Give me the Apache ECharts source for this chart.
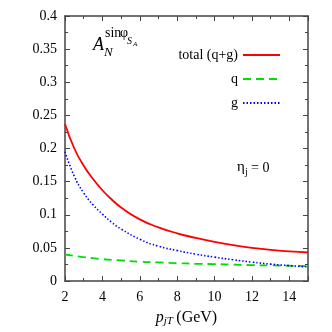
<!DOCTYPE html>
<html>
<head>
<meta charset="utf-8">
<script src="https://cdn.jsdelivr.net/npm/echarts@6/dist/echarts.min.js"></script>
<style>
  html, body { margin: 0; padding: 0; background: #fff; }
  #chart { width: 332px; height: 332px; }
</style>
</head>
<body>
<div id="chart"></div>
<script>
// values
var ptValues = [2, 2.5, 3, 3.5, 4, 4.5, 5, 6, 7, 8, 9, 10, 11, 12, 13, 14, 15];
var totalVals = [0.237, 0.200, 0.174, 0.154, 0.137, 0.123, 0.111, 0.093, 0.081, 0.072, 0.065, 0.059, 0.054, 0.050, 0.047, 0.0446, 0.043];
var qVals = [0.040, 0.038, 0.036, 0.0345, 0.033, 0.032, 0.031, 0.029, 0.028, 0.027, 0.026, 0.0255, 0.0247, 0.024, 0.0235, 0.023, 0.0225];
var gVals = [0.195, 0.158, 0.133, 0.115, 0.101, 0.0885, 0.0785, 0.063, 0.0525, 0.046, 0.0405, 0.036, 0.032, 0.0285, 0.0255, 0.0232, 0.0213];
var seriesNames = ['total (q+g)', 'q', 'g'];
var xTicks = [2, 4, 6, 8, 10, 12, 14];
var yTicks = [0, 0.05, 0.1, 0.15, 0.2, 0.25, 0.3, 0.35, 0.4];

var serif = '"Liberation Serif", "DejaVu Serif", serif';
var axisCol = '#444';

function pairs(vals) {
    var out = [];
    for (var i = 0; i < ptValues.length; i++) {
        out.push([ptValues[i], vals[i]]);
    }
    return out;
}

function xAxisCfg(pos, labels) {
    return {
        type: 'value',
        position: pos,
        min: 2,
        max: 15,
        interval: 2,
        splitLine: { show: false },
        axisLine: { show: true, onZero: false, lineStyle: { color: axisCol, width: 1.5 } },
        axisTick: { show: true, inside: true, length: 5, lineStyle: { color: axisCol } },
        minorTick: { show: true, splitNumber: 2, length: 3, lineStyle: { color: axisCol } },
        axisLabel: {
            show: labels,
            margin: 9,
            color: '#000',
            fontFamily: serif,
            fontSize: 14,
            formatter: function (v) { return xTicks.indexOf(v) >= 0 ? String(v) : ''; }
        },
        name: labels ? '{p|p}{s|jT} {u|(GeV)}' : '',
        nameLocation: 'middle',
        nameGap: 27,
        nameTextStyle: {
            rich: {
                p: { fontFamily: serif, fontStyle: 'italic', fontSize: 16, color: '#000' },
                s: { fontFamily: serif, fontStyle: 'italic', fontSize: 11, color: '#000', padding: [8, 0, 0, 0] },
                u: { fontFamily: serif, fontSize: 16, color: '#000' }
            }
        }
    };
}

function yAxisCfg(pos, labels) {
    return {
        type: 'value',
        position: pos,
        min: 0,
        max: 0.4,
        interval: 0.05,
        splitLine: { show: false },
        axisLine: { show: true, onZero: false, lineStyle: { color: axisCol, width: 1.5 } },
        axisTick: { show: true, inside: true, length: 5, lineStyle: { color: axisCol } },
        minorTick: { show: true, splitNumber: 2, length: 3, lineStyle: { color: axisCol } },
        axisLabel: {
            show: labels,
            margin: 8,
            color: '#000',
            fontFamily: serif,
            fontSize: 14,
            formatter: function (v) {
                for (var i = 0; i < yTicks.length; i++) {
                    if (Math.abs(yTicks[i] - v) < 1e-9) return String(yTicks[i]);
                }
                return '';
            }
        }
    };
}

var chart = echarts.init(document.getElementById('chart'));
chart.setOption({
    animation: false,
    backgroundColor: '#fff',
    grid: { left: 65, right: 24, top: 16, bottom: 42 },
    xAxis: [xAxisCfg('bottom', true), xAxisCfg('top', false)],
    yAxis: [yAxisCfg('left', true), yAxisCfg('right', false)],
    legend: {
        orient: 'vertical',
        align: 'right',
        right: 46,
        top: 43,
        itemWidth: 37,
        itemHeight: 14,
        itemGap: 10,
        itemStyle: { opacity: 0 },
        textStyle: { fontFamily: serif, fontSize: 14, color: '#000' },
        data: seriesNames
    },
    series: [
        {
            name: seriesNames[0], type: 'line', smooth: true, symbol: 'none',
            lineStyle: { color: '#ff0000', width: 1.8 }, itemStyle: { color: '#ff0000' },
            data: pairs(totalVals)
        },
        {
            name: seriesNames[1], type: 'line', smooth: true, symbol: 'none',
            lineStyle: { color: '#00dd00', width: 1.8, type: [8, 5] }, itemStyle: { color: '#00dd00' },
            data: pairs(qVals)
        },
        {
            name: seriesNames[2], type: 'line', smooth: true, symbol: 'none',
            lineStyle: { color: '#0000ff', width: 1.6, type: [1.5, 2] }, itemStyle: { color: '#0000ff' },
            data: pairs(gVals)
        }
    ],
    graphic: [
        { type: 'text', left: 93, top: 36, style: { text: 'A', font: 'italic 18px ' + serif, fill: '#000' } },
        { type: 'text', left: 104, top: 46, style: { text: 'N', font: 'italic 13px ' + serif, fill: '#000' } },
        { type: 'text', left: 105, top: 26, style: { text: 'sin', font: '14px ' + serif, fill: '#000' } },
        { type: 'text', left: 120, top: 26, style: { text: '\u03c6', font: '14px ' + serif, fill: '#000' } },
        { type: 'text', left: 127, top: 36, style: { text: 'S', font: 'italic 10px ' + serif, fill: '#000' } },
        { type: 'text', left: 133, top: 41, style: { text: 'A', font: 'italic 7px ' + serif, fill: '#000' } },
        { type: 'text', left: 237, top: 160, style: { text: '\u03b7', font: '15px ' + serif, fill: '#000' } },
        { type: 'text', left: 245, top: 167, style: { text: 'j', font: '10px ' + serif, fill: '#000' } },
        { type: 'text', left: 251, top: 161, style: { text: '= 0', font: '14px ' + serif, fill: '#000' } }
    ]
});
</script>
</body>
</html>
